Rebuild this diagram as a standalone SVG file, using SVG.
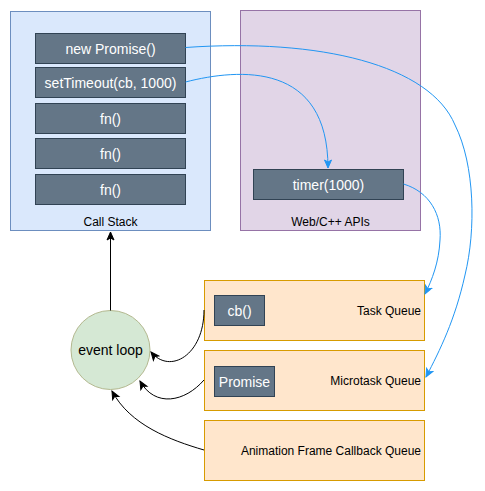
<svg xmlns="http://www.w3.org/2000/svg" width="485" height="491" viewBox="0 0 485 491">
<defs>
<style>
.lbl{font-family:"Liberation Sans",Arial,sans-serif;font-size:12px;fill:#000}
.box{fill:#647687;stroke:#314354;stroke-width:1}
.bt{font-family:"Liberation Sans",Arial,sans-serif;font-size:14px;fill:#fff;text-anchor:middle}
.q{fill:#ffe6cc;stroke:#d79b00;stroke-width:1}
.blue{fill:none;stroke:#2196f3;stroke-width:1}
.blk{fill:none;stroke:#000;stroke-width:1}
</style>
<marker id="ab" markerUnits="userSpaceOnUse" markerWidth="10" markerHeight="10" viewBox="0 0 10 10" refX="9" refY="5" orient="auto">
<path d="M1,1.5 L9,5 L1,8.5 L3,5 z" fill="#2196f3" stroke="#2196f3" stroke-width="1"/>
</marker>
<marker id="ak" markerUnits="userSpaceOnUse" markerWidth="10" markerHeight="10" viewBox="0 0 10 10" refX="9" refY="5" orient="auto">
<path d="M1,1.5 L9,5 L1,8.5 L3,5 z" fill="#000" stroke="#000" stroke-width="1"/>
</marker>
</defs>
<rect width="485" height="491" fill="#fff"/>
<g id="callstack">
<rect x="10.5" y="11.5" width="200" height="219" fill="#dae8fc" stroke="#6c8ebf"/>
<text class="lbl" x="110.5" y="226" text-anchor="middle">Call Stack</text>
</g>
<g id="webapis">
<rect x="240.5" y="10.5" width="180" height="220" fill="#e1d5e7" stroke="#9673a6"/>
<text class="lbl" x="330.5" y="226" text-anchor="middle">Web/C++ APIs</text>
</g>
<g id="newpromise"><rect class="box" x="35.5" y="33.5" width="150" height="30"/><text class="bt" x="110.5" y="53.5">new Promise()</text></g>
<g id="settimeout"><rect class="box" x="35.5" y="67.5" width="150" height="30"/><text class="bt" x="110.5" y="87.5">setTimeout(cb, 1000)</text></g>
<g id="fn1"><rect class="box" x="35.5" y="103.5" width="150" height="30"/><text class="bt" x="110.5" y="123.5">fn()</text></g>
<g id="fn2"><rect class="box" x="35.5" y="138.5" width="150" height="30"/><text class="bt" x="110.5" y="158.5">fn()</text></g>
<g id="fn3"><rect class="box" x="35.5" y="174.5" width="150" height="30"/><text class="bt" x="110.5" y="194.5">fn()</text></g>
<g id="timer"><rect class="box" x="253.5" y="169.5" width="150" height="30"/><text class="bt" x="328.5" y="189.5">timer(1000)</text></g>
<g id="taskqueue">
<rect class="q" x="204.5" y="280.5" width="220" height="60"/>
<text class="lbl" x="421" y="315" text-anchor="end">Task Queue</text>
</g>
<g id="cb"><rect class="box" x="214.5" y="295.5" width="50" height="30"/><text class="bt" x="239.5" y="315.5">cb()</text></g>
<g id="microtaskqueue">
<rect class="q" x="204.5" y="350.5" width="220" height="60"/>
<text class="lbl" x="421" y="385" text-anchor="end">Microtask Queue</text>
</g>
<g id="promise"><rect class="box" x="214.5" y="366.5" width="60" height="30"/><text class="bt" x="244.5" y="386.5">Promise</text></g>
<g id="animationqueue">
<rect class="q" x="204.5" y="420.5" width="220" height="60"/>
<text class="lbl" x="421" y="455" text-anchor="end">Animation Frame Callback Queue</text>
</g>
<g id="eventloop">
<circle cx="110.5" cy="350" r="39.5" fill="#d5e8d4" stroke="#b3b88f"/>
<text x="110.5" y="355" text-anchor="middle" font-family="Liberation Sans, Arial, sans-serif" font-size="14">event loop</text>
</g>
<g id="connectors">
<path class="blue" d="M185.5,47.5 C320,38 430,65 455,125 C475,165 476,230 465,275 C455,320 440,350 426,377" marker-end="url(#ab)"/>
<path class="blue" d="M185.5,82 C240,68 328,62 328,168" marker-end="url(#ab)"/>
<path class="blue" d="M403.5,184 C430,192 442,215 440,240 C439,262 432,280 425,294" marker-end="url(#ab)"/>
<path class="blk" d="M110.5,310.5 L110.5,232" marker-end="url(#ak)"/>
<path class="blk" d="M204,310 C204,355 170,375 151,352" marker-end="url(#ak)"/>
<path class="blk" d="M204,380 C185,402 155,408 140,381" marker-end="url(#ak)"/>
<path class="blk" d="M204,450 C170,440 130,425 112,391" marker-end="url(#ak)"/>
</g>
</svg>
